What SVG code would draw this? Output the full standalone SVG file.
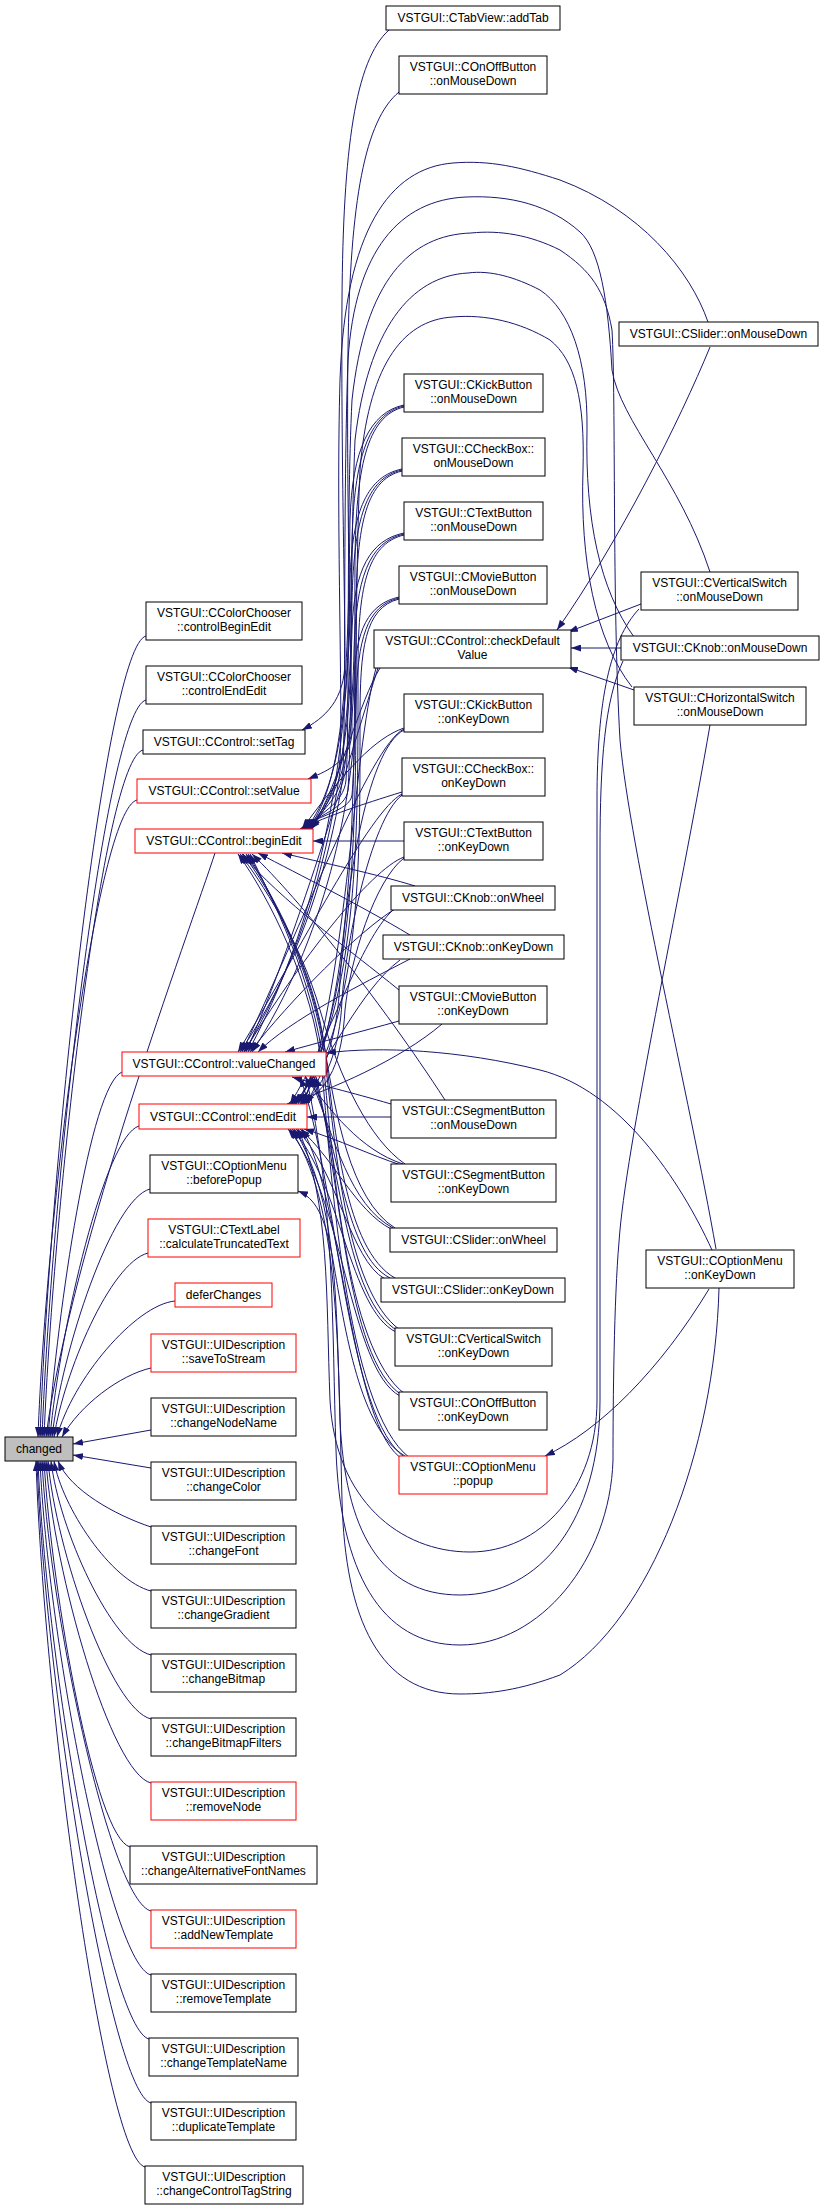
<svg xmlns="http://www.w3.org/2000/svg" width="821" height="2210" viewBox="0 0 821 2210">
<style>
.n rect{fill:#fff;stroke:#000;stroke-width:1}
.n.r rect{stroke:#f00}
.n.root rect{fill:#bfbfbf}
text{font-family:"Liberation Sans",Arial,Helvetica,sans-serif;font-size:12px;text-anchor:middle;fill:#000}
#edges path{fill:none;stroke:#191970;stroke-width:1;marker-end:url(#a)}
</style>
<defs>
<marker id="a" viewBox="0 0 10 7" refX="10" refY="3.5" markerWidth="10" markerHeight="7" markerUnits="userSpaceOnUse" orient="auto"><path d="M0,0L10,3.5L0,7z" fill="#191970"/></marker>
</defs>
<rect width="821" height="2210" fill="#fff"/>
<g id="edges">
<!-- to changed, from above -->
<path d="M146,636 C106,646 50,1157 40,1437"/>
<path d="M146,700 C106,710 52,1179 42,1437"/>
<path d="M143,750 C103,760 54,1197 44,1437"/>
<path d="M137,800 C97,810 46,1214 38,1437"/>
<path d="M215,853 C190,930 70,1250 46,1437"/>
<path d="M122,1072 C90,1085 58,1310 48,1437"/>
<path d="M139,1126 C105,1136 60,1328 50,1437"/>
<path d="M150,1189 C112,1199 62,1350 52,1437"/>
<path d="M148,1253 C110,1263 64,1373 54,1437"/>
<path d="M175,1301 C135,1305 72,1380 57,1437"/>
<path d="M151,1368 C120,1375 80,1405 62,1437"/>
<path d="M151,1430 L73,1444"/>
<path d="M151,1468 L73,1455"/>
<!-- to changed, from below -->
<path d="M151,1527 C115,1515 70,1490 58,1461"/>
<path d="M151,1591 C111,1581 62,1507 54,1461"/>
<path d="M151,1655 C111,1645 59,1529 51,1461"/>
<path d="M151,1719 C111,1709 56,1551 48,1461"/>
<path d="M151,1783 C111,1773 54,1574 46,1461"/>
<path d="M130,1847 C95,1837 52,1596 44,1461"/>
<path d="M151,1911 C111,1901 50,1618 42,1461"/>
<path d="M151,1975 C111,1965 48,1641 40,1461"/>
<path d="M149,2039 C109,2029 46,1663 38,1461"/>
<path d="M151,2103 C111,2093 45,1686 37,1461"/>
<path d="M145,2167 C105,2157 44,1708 36,1461"/>
<!-- setTag / setValue -->
<path d="M389,30 C355,60 343,150 342,300 C341,450 345,600 345,660 C345,700 325,718 302,730"/>
<path d="M399,92 C365,120 350,200 348,350 C346,500 352,700 352,730 C352,760 330,770 308,779"/>
<!-- upper middle nodes -->
<path d="M404,405 C370,412 352,450 350,520 C348,640 348,780 308,829"/>
<path d="M404,406 C368,414 354,460 352,540 C350,700 340,880 248,1052"/>
<path d="M404,407 C366,416 356,470 355,560 C354,760 360,980 302,1104"/>
<path d="M402,469 C368,476 352,510 350,580 C348,680 345,780 306,829"/>
<path d="M402,470 C366,478 354,520 352,600 C350,740 335,900 244,1052"/>
<path d="M402,471 C364,480 356,530 356,620 C356,800 360,990 298,1104"/>
<path d="M404,533 C370,540 354,570 352,630 C350,700 348,790 310,829"/>
<path d="M404,534 C368,542 356,580 354,650 C352,760 330,920 240,1052"/>
<path d="M404,535 C366,544 358,590 358,670 C358,830 360,1000 296,1104"/>
<path d="M399,597 C368,604 356,630 354,680 C352,740 346,795 304,829"/>
<path d="M399,598 C366,606 358,640 356,700 C354,800 325,940 252,1052"/>
<path d="M399,599 C364,608 360,650 360,720 C360,860 362,1010 300,1104"/>
<!-- checkDefaultValue -->
<path d="M380,668 C360,700 340,780 312,829"/>
<path d="M378,668 C355,740 300,930 246,1052"/>
<path d="M376,668 C352,760 350,960 304,1104"/>
<!-- key down etc -->
<path d="M404,728 C375,738 345,770 302,829"/>
<path d="M404,729 C370,745 300,930 242,1052"/>
<path d="M404,730 C365,750 345,900 340,980 C338,1040 320,1080 306,1104"/>
<path d="M402,792 C360,805 330,815 300,829"/>
<path d="M402,794 C370,810 300,950 238,1052"/>
<path d="M402,795 C370,820 345,950 342,1000 C340,1050 325,1085 303,1104"/>
<path d="M404,841 L313,841"/>
<path d="M404,857 C370,870 300,960 244,1052"/>
<path d="M404,858 C375,880 350,960 345,1010 C342,1060 330,1090 300,1104"/>
<path d="M415,886 C380,875 320,862 282,853"/>
<path d="M395,909 C360,930 290,1000 250,1052"/>
<path d="M393,910 C360,940 330,1040 290,1104"/>
<path d="M410,935 C360,905 300,875 258,853"/>
<path d="M410,959 C360,985 290,1020 258,1052"/>
<path d="M400,960 C360,990 330,1060 294,1104"/>
<path d="M399,990 C350,950 280,900 242,854"/>
<path d="M399,1021 C360,1032 320,1042 285,1052"/>
<path d="M442,1024 C400,1060 330,1090 287,1104"/>
<path d="M445,1100 C380,1000 300,900 252,854"/>
<path d="M391,1104 C350,1092 320,1085 292,1077"/>
<path d="M391,1117 L307,1117"/>
<path d="M405,1164 C370,1140 340,1080 320,1010 C300,940 260,880 240,854"/>
<path d="M403,1164 C360,1150 330,1110 305,1077"/>
<path d="M401,1165 C370,1155 340,1140 304,1129"/>
<path d="M395,1228 C350,1200 335,1110 325,1050 C310,960 270,890 243,854"/>
<path d="M393,1228 C350,1205 335,1140 310,1077"/>
<path d="M391,1229 C355,1210 335,1160 300,1129"/>
<path d="M395,1278 C345,1250 335,1130 325,1050 C315,970 270,890 246,854"/>
<path d="M390,1278 C345,1255 340,1150 312,1077"/>
<path d="M385,1279 C350,1260 338,1170 296,1129"/>
<path d="M400,1330 C345,1290 335,1140 325,1060 C315,975 270,892 248,854"/>
<path d="M398,1331 C345,1300 340,1160 314,1077"/>
<path d="M396,1332 C350,1310 340,1180 292,1129"/>
<path d="M405,1394 C345,1350 332,1150 324,1070 C315,980 270,895 250,854"/>
<path d="M402,1395 C345,1360 340,1170 316,1077"/>
<path d="M400,1396 C350,1370 342,1190 288,1129"/>
<path d="M410,1458 C345,1410 330,1160 322,1070 C314,985 268,895 238,854"/>
<path d="M407,1459 C345,1420 338,1180 300,1077"/>
<path d="M404,1460 C350,1430 344,1200 302,1129"/>
<path d="M405,1456 C360,1430 345,1330 333,1260 C325,1215 315,1198 298,1191"/>
<!-- top arcs from right column -->
<path d="M708,322 C690,270 640,210 560,180 C520,167 490,160 453,163 C390,168 345,230 340,380 C336,520 343,700 340,760 C338,790 320,810 311,829"/>
<path d="M710,572 C680,480 620,420 612,370 C608,300 600,250 580,232 C550,205 510,195 466,197 C400,200 355,250 348,360 C343,500 346,700 343,770 C341,800 318,812 309,829"/>
<path d="M716,1249 C690,1100 630,850 620,740 C612,600 616,400 612,330 C605,290 590,270 560,250 C530,235 500,230 471,233 C410,235 365,280 352,400 C346,520 350,720 346,780 C344,805 316,814 307,829"/>
<path d="M634,637 C600,590 585,520 587,430 C588,360 570,310 540,290 C515,277 490,270 468,273 C410,276 368,330 355,440 C350,560 352,730 348,790 C346,810 314,815 305,829"/>
<path d="M632,687 C595,640 580,560 583,470 C585,400 575,360 550,340 C520,322 485,314 453,317 C400,320 368,370 360,470 C355,580 357,740 352,795 C350,812 312,816 303,829"/>
<!-- to checkDefaultValue -->
<path d="M710,347 C680,420 620,540 557,630"/>
<path d="M641,604 L568,632"/>
<path d="M621,648 L571,648"/>
<path d="M634,690 L568,667"/>
<!-- COptionMenu::onKeyDown -->
<path d="M712,1250 C680,1180 620,1090 540,1070 C460,1050 380,1046 326,1053"/>
<path d="M709,1289 C660,1370 600,1430 545,1456"/>
<!-- bottom arcs -->
<path d="M639,609 C610,640 597,700 597,800 L597,1400 C597,1490 540,1552 470,1552 C400,1552 335,1500 330,1400 C326,1300 330,1200 298,1129"/>
<path d="M623,661 C605,700 600,760 600,850 L600,1400 C600,1520 540,1595 460,1595 C380,1595 345,1530 340,1420 C336,1300 338,1200 294,1129"/>
<path d="M710,725 C680,900 625,1150 619,1242 C614,1300 613,1400 613,1460 C610,1560 540,1645 460,1645 C380,1645 340,1570 336,1450 C332,1330 335,1200 306,1077"/>
<path d="M719,1288 C715,1450 650,1620 560,1675 C520,1690 490,1694 460,1694 C380,1694 345,1620 342,1500 C338,1350 340,1200 290,1129"/>
</g>
<!-- left column -->
<g id="n_changed" class="n root"><rect x="5" y="1437" width="68" height="24"/><text x="39" y="1453">changed</text></g>
<g id="n_ccBegin" class="n"><rect x="146" y="602" width="156" height="38"/><text x="224" y="617">VSTGUI::CColorChooser</text><text x="224" y="631">::controlBeginEdit</text></g>
<g id="n_ccEnd" class="n"><rect x="146" y="666" width="156" height="38"/><text x="224" y="681">VSTGUI::CColorChooser</text><text x="224" y="695">::controlEndEdit</text></g>
<g id="n_setTag" class="n"><rect x="143" y="730" width="162" height="24"/><text x="224" y="746">VSTGUI::CControl::setTag</text></g>
<g id="n_setValue" class="n r"><rect x="137" y="779" width="174" height="24"/><text x="224" y="795">VSTGUI::CControl::setValue</text></g>
<g id="n_beginEdit" class="n r"><rect x="135" y="829" width="178" height="24"/><text x="224" y="845">VSTGUI::CControl::beginEdit</text></g>
<g id="n_valueChanged" class="n r"><rect x="122" y="1052" width="204" height="24"/><text x="224" y="1068">VSTGUI::CControl::valueChanged</text></g>
<g id="n_endEdit" class="n r"><rect x="139" y="1104" width="168" height="25"/><text x="223" y="1121">VSTGUI::CControl::endEdit</text></g>
<g id="n_beforePopup" class="n"><rect x="150" y="1155" width="148" height="38"/><text x="224" y="1170">VSTGUI::COptionMenu</text><text x="224" y="1184">::beforePopup</text></g>
<g id="n_calcTrunc" class="n r"><rect x="148" y="1219" width="152" height="38"/><text x="224" y="1234">VSTGUI::CTextLabel</text><text x="224" y="1248">::calculateTruncatedText</text></g>
<g id="n_deferChanges" class="n r"><rect x="175" y="1283" width="97" height="24"/><text x="223.5" y="1299">deferChanges</text></g>
<g id="n_saveToStream" class="n r"><rect x="151" y="1334" width="145" height="38"/><text x="223.5" y="1349">VSTGUI::UIDescription</text><text x="223.5" y="1363">::saveToStream</text></g>
<g id="n_changeNodeName" class="n"><rect x="151" y="1398" width="145" height="38"/><text x="223.5" y="1413">VSTGUI::UIDescription</text><text x="223.5" y="1427">::changeNodeName</text></g>
<g id="n_changeColor" class="n"><rect x="151" y="1462" width="145" height="38"/><text x="223.5" y="1477">VSTGUI::UIDescription</text><text x="223.5" y="1491">::changeColor</text></g>
<g id="n_changeFont" class="n"><rect x="151" y="1526" width="145" height="38"/><text x="223.5" y="1541">VSTGUI::UIDescription</text><text x="223.5" y="1555">::changeFont</text></g>
<g id="n_changeGradient" class="n"><rect x="151" y="1590" width="145" height="38"/><text x="223.5" y="1605">VSTGUI::UIDescription</text><text x="223.5" y="1619">::changeGradient</text></g>
<g id="n_changeBitmap" class="n"><rect x="151" y="1654" width="145" height="38"/><text x="223.5" y="1669">VSTGUI::UIDescription</text><text x="223.5" y="1683">::changeBitmap</text></g>
<g id="n_changeBitmapFilters" class="n"><rect x="151" y="1718" width="145" height="38"/><text x="223.5" y="1733">VSTGUI::UIDescription</text><text x="223.5" y="1747">::changeBitmapFilters</text></g>
<g id="n_removeNode" class="n r"><rect x="151" y="1782" width="145" height="38"/><text x="223.5" y="1797">VSTGUI::UIDescription</text><text x="223.5" y="1811">::removeNode</text></g>
<g id="n_changeAltFontNames" class="n"><rect x="130" y="1846" width="187" height="38"/><text x="223.5" y="1861">VSTGUI::UIDescription</text><text x="223.5" y="1875">::changeAlternativeFontNames</text></g>
<g id="n_addNewTemplate" class="n r"><rect x="151" y="1910" width="145" height="38"/><text x="223.5" y="1925">VSTGUI::UIDescription</text><text x="223.5" y="1939">::addNewTemplate</text></g>
<g id="n_removeTemplate" class="n"><rect x="151" y="1974" width="145" height="38"/><text x="223.5" y="1989">VSTGUI::UIDescription</text><text x="223.5" y="2003">::removeTemplate</text></g>
<g id="n_changeTemplateName" class="n"><rect x="149" y="2038" width="149" height="38"/><text x="223.5" y="2053">VSTGUI::UIDescription</text><text x="223.5" y="2067">::changeTemplateName</text></g>
<g id="n_duplicateTemplate" class="n"><rect x="151" y="2102" width="145" height="38"/><text x="223.5" y="2117">VSTGUI::UIDescription</text><text x="223.5" y="2131">::duplicateTemplate</text></g>
<g id="n_changeControlTagString" class="n"><rect x="145" y="2166" width="158" height="38"/><text x="224" y="2181">VSTGUI::UIDescription</text><text x="224" y="2195">::changeControlTagString</text></g>
<!-- middle column -->
<g id="n_addTab" class="n"><rect x="386" y="6" width="174" height="24"/><text x="473" y="22">VSTGUI::CTabView::addTab</text></g>
<g id="n_onOffMouseDown" class="n"><rect x="399" y="56" width="148" height="38"/><text x="473" y="71">VSTGUI::COnOffButton</text><text x="473" y="85">::onMouseDown</text></g>
<g id="n_kickMouseDown" class="n"><rect x="404" y="374" width="139" height="38"/><text x="473.5" y="389">VSTGUI::CKickButton</text><text x="473.5" y="403">::onMouseDown</text></g>
<g id="n_checkBoxMouseDown" class="n"><rect x="402" y="438" width="143" height="38"/><text x="473.5" y="453">VSTGUI::CCheckBox::</text><text x="473.5" y="467">onMouseDown</text></g>
<g id="n_textBtnMouseDown" class="n"><rect x="404" y="502" width="139" height="38"/><text x="473.5" y="517">VSTGUI::CTextButton</text><text x="473.5" y="531">::onMouseDown</text></g>
<g id="n_movieMouseDown" class="n"><rect x="399" y="566" width="148" height="38"/><text x="473" y="581">VSTGUI::CMovieButton</text><text x="473" y="595">::onMouseDown</text></g>
<g id="n_checkDefault" class="n"><rect x="374" y="630" width="197" height="38"/><text x="472.5" y="645">VSTGUI::CControl::checkDefault</text><text x="472.5" y="659">Value</text></g>
<g id="n_kickKeyDown" class="n"><rect x="404" y="694" width="139" height="38"/><text x="473.5" y="709">VSTGUI::CKickButton</text><text x="473.5" y="723">::onKeyDown</text></g>
<g id="n_checkBoxKeyDown" class="n"><rect x="402" y="758" width="143" height="38"/><text x="473.5" y="773">VSTGUI::CCheckBox::</text><text x="473.5" y="787">onKeyDown</text></g>
<g id="n_textBtnKeyDown" class="n"><rect x="404" y="822" width="139" height="38"/><text x="473.5" y="837">VSTGUI::CTextButton</text><text x="473.5" y="851">::onKeyDown</text></g>
<g id="n_knobWheel" class="n"><rect x="391" y="886" width="164" height="24"/><text x="473" y="902">VSTGUI::CKnob::onWheel</text></g>
<g id="n_knobKeyDown" class="n"><rect x="383" y="935" width="181" height="24"/><text x="473.5" y="951">VSTGUI::CKnob::onKeyDown</text></g>
<g id="n_movieKeyDown" class="n"><rect x="399" y="986" width="148" height="38"/><text x="473" y="1001">VSTGUI::CMovieButton</text><text x="473" y="1015">::onKeyDown</text></g>
<g id="n_segMouseDown" class="n"><rect x="391" y="1100" width="165" height="38"/><text x="473.5" y="1115">VSTGUI::CSegmentButton</text><text x="473.5" y="1129">::onMouseDown</text></g>
<g id="n_segKeyDown" class="n"><rect x="391" y="1164" width="165" height="38"/><text x="473.5" y="1179">VSTGUI::CSegmentButton</text><text x="473.5" y="1193">::onKeyDown</text></g>
<g id="n_sliderWheel" class="n"><rect x="390" y="1228" width="167" height="24"/><text x="473.5" y="1244">VSTGUI::CSlider::onWheel</text></g>
<g id="n_sliderKeyDown" class="n"><rect x="381" y="1278" width="184" height="24"/><text x="473" y="1294">VSTGUI::CSlider::onKeyDown</text></g>
<g id="n_vsKeyDown" class="n"><rect x="395" y="1328" width="157" height="38"/><text x="473.5" y="1343">VSTGUI::CVerticalSwitch</text><text x="473.5" y="1357">::onKeyDown</text></g>
<g id="n_onOffKeyDown" class="n"><rect x="399" y="1392" width="148" height="38"/><text x="473" y="1407">VSTGUI::COnOffButton</text><text x="473" y="1421">::onKeyDown</text></g>
<g id="n_popup" class="n r"><rect x="399" y="1456" width="148" height="38"/><text x="473" y="1471">VSTGUI::COptionMenu</text><text x="473" y="1485">::popup</text></g>
<!-- right column -->
<g id="n_sliderMouseDown" class="n"><rect x="619" y="322" width="199" height="24"/><text x="718.5" y="338">VSTGUI::CSlider::onMouseDown</text></g>
<g id="n_vsMouseDown" class="n"><rect x="641" y="572" width="157" height="38"/><text x="719.5" y="587">VSTGUI::CVerticalSwitch</text><text x="719.5" y="601">::onMouseDown</text></g>
<g id="n_knobMouseDown" class="n"><rect x="621" y="636" width="198" height="24"/><text x="720" y="652">VSTGUI::CKnob::onMouseDown</text></g>
<g id="n_hsMouseDown" class="n"><rect x="634" y="687" width="172" height="38"/><text x="720" y="702">VSTGUI::CHorizontalSwitch</text><text x="720" y="716">::onMouseDown</text></g>
<g id="n_omKeyDown" class="n"><rect x="646" y="1250" width="148" height="38"/><text x="720" y="1265">VSTGUI::COptionMenu</text><text x="720" y="1279">::onKeyDown</text></g>
</svg>
